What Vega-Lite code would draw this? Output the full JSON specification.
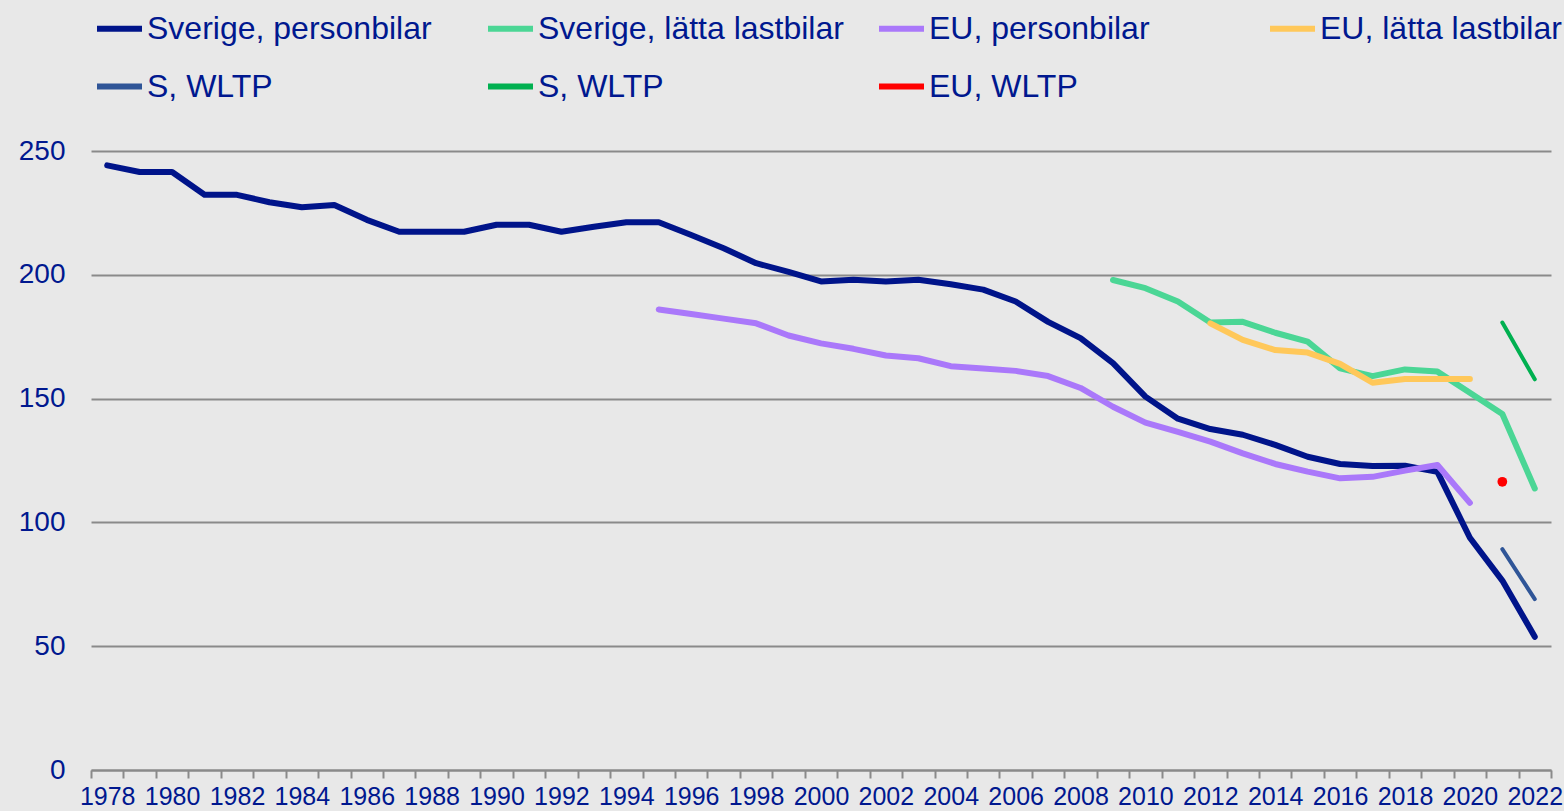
{
  "$schema": "https://vega.github.io/schema/vega-lite/v6.json",
  "width": 1460,
  "height": 619,
  "autosize": {"type": "none"},
  "padding": {"left": 91, "top": 151, "right": 13, "bottom": 41},
  "background": "#e8e8e8",
  "config": {
    "view": {"stroke": null},
    "font": "Liberation Sans",
    "axis": {"labelFont": "Liberation Sans", "labelColor": "#00188f"},
    "legend": {"labelFont": "Liberation Sans"}
  },
  "datasets": {
    "main": [
      {"year": 1978, "series": "Sverige, personbilar", "value": 244.2},
      {"year": 1979, "series": "Sverige, personbilar", "value": 241.5},
      {"year": 1980, "series": "Sverige, personbilar", "value": 241.5},
      {"year": 1981, "series": "Sverige, personbilar", "value": 232.3},
      {"year": 1982, "series": "Sverige, personbilar", "value": 232.3},
      {"year": 1983, "series": "Sverige, personbilar", "value": 229.3},
      {"year": 1984, "series": "Sverige, personbilar", "value": 227.3},
      {"year": 1985, "series": "Sverige, personbilar", "value": 228.2},
      {"year": 1986, "series": "Sverige, personbilar", "value": 222.2},
      {"year": 1987, "series": "Sverige, personbilar", "value": 217.4},
      {"year": 1988, "series": "Sverige, personbilar", "value": 217.4},
      {"year": 1989, "series": "Sverige, personbilar", "value": 217.4},
      {"year": 1990, "series": "Sverige, personbilar", "value": 220.2},
      {"year": 1991, "series": "Sverige, personbilar", "value": 220.2},
      {"year": 1992, "series": "Sverige, personbilar", "value": 217.4},
      {"year": 1993, "series": "Sverige, personbilar", "value": 219.4},
      {"year": 1994, "series": "Sverige, personbilar", "value": 221.2},
      {"year": 1995, "series": "Sverige, personbilar", "value": 221.2},
      {"year": 1996, "series": "Sverige, personbilar", "value": 216.1},
      {"year": 1997, "series": "Sverige, personbilar", "value": 210.7},
      {"year": 1998, "series": "Sverige, personbilar", "value": 204.7},
      {"year": 1999, "series": "Sverige, personbilar", "value": 201.2},
      {"year": 2000, "series": "Sverige, personbilar", "value": 197.3},
      {"year": 2001, "series": "Sverige, personbilar", "value": 198.0},
      {"year": 2002, "series": "Sverige, personbilar", "value": 197.3},
      {"year": 2003, "series": "Sverige, personbilar", "value": 198.0},
      {"year": 2004, "series": "Sverige, personbilar", "value": 196.2},
      {"year": 2005, "series": "Sverige, personbilar", "value": 194.0},
      {"year": 2006, "series": "Sverige, personbilar", "value": 189.2},
      {"year": 2007, "series": "Sverige, personbilar", "value": 181.0},
      {"year": 2008, "series": "Sverige, personbilar", "value": 174.4},
      {"year": 2009, "series": "Sverige, personbilar", "value": 164.3},
      {"year": 2010, "series": "Sverige, personbilar", "value": 150.8},
      {"year": 2011, "series": "Sverige, personbilar", "value": 141.9},
      {"year": 2012, "series": "Sverige, personbilar", "value": 137.7},
      {"year": 2013, "series": "Sverige, personbilar", "value": 135.4},
      {"year": 2014, "series": "Sverige, personbilar", "value": 131.3},
      {"year": 2015, "series": "Sverige, personbilar", "value": 126.5},
      {"year": 2016, "series": "Sverige, personbilar", "value": 123.6},
      {"year": 2017, "series": "Sverige, personbilar", "value": 122.8},
      {"year": 2018, "series": "Sverige, personbilar", "value": 122.9},
      {"year": 2019, "series": "Sverige, personbilar", "value": 120.4},
      {"year": 2020, "series": "Sverige, personbilar", "value": 93.8},
      {"year": 2021, "series": "Sverige, personbilar", "value": 76.5},
      {"year": 2022, "series": "Sverige, personbilar", "value": 53.8},
      {"year": 2009, "series": "Sverige, lätta lastbilar", "value": 197.9},
      {"year": 2010, "series": "Sverige, lätta lastbilar", "value": 194.6},
      {"year": 2011, "series": "Sverige, lätta lastbilar", "value": 189.2},
      {"year": 2012, "series": "Sverige, lätta lastbilar", "value": 180.7},
      {"year": 2013, "series": "Sverige, lätta lastbilar", "value": 181.0},
      {"year": 2014, "series": "Sverige, lätta lastbilar", "value": 176.6},
      {"year": 2015, "series": "Sverige, lätta lastbilar", "value": 173.0},
      {"year": 2016, "series": "Sverige, lätta lastbilar", "value": 162.2},
      {"year": 2017, "series": "Sverige, lätta lastbilar", "value": 159.1},
      {"year": 2018, "series": "Sverige, lätta lastbilar", "value": 161.8},
      {"year": 2019, "series": "Sverige, lätta lastbilar", "value": 160.9},
      {"year": 2020, "series": "Sverige, lätta lastbilar", "value": 152.4},
      {"year": 2021, "series": "Sverige, lätta lastbilar", "value": 143.8},
      {"year": 2022, "series": "Sverige, lätta lastbilar", "value": 113.7},
      {"year": 1995, "series": "EU, personbilar", "value": 186.0},
      {"year": 1996, "series": "EU, personbilar", "value": 184.2},
      {"year": 1997, "series": "EU, personbilar", "value": 182.3},
      {"year": 1998, "series": "EU, personbilar", "value": 180.4},
      {"year": 1999, "series": "EU, personbilar", "value": 175.5},
      {"year": 2000, "series": "EU, personbilar", "value": 172.3},
      {"year": 2001, "series": "EU, personbilar", "value": 170.1},
      {"year": 2002, "series": "EU, personbilar", "value": 167.4},
      {"year": 2003, "series": "EU, personbilar", "value": 166.3},
      {"year": 2004, "series": "EU, personbilar", "value": 163.1},
      {"year": 2005, "series": "EU, personbilar", "value": 162.2},
      {"year": 2006, "series": "EU, personbilar", "value": 161.2},
      {"year": 2007, "series": "EU, personbilar", "value": 159.1},
      {"year": 2008, "series": "EU, personbilar", "value": 154.3},
      {"year": 2009, "series": "EU, personbilar", "value": 146.7},
      {"year": 2010, "series": "EU, personbilar", "value": 140.3},
      {"year": 2011, "series": "EU, personbilar", "value": 136.6},
      {"year": 2012, "series": "EU, personbilar", "value": 132.6},
      {"year": 2013, "series": "EU, personbilar", "value": 127.9},
      {"year": 2014, "series": "EU, personbilar", "value": 123.6},
      {"year": 2015, "series": "EU, personbilar", "value": 120.5},
      {"year": 2016, "series": "EU, personbilar", "value": 117.8},
      {"year": 2017, "series": "EU, personbilar", "value": 118.4},
      {"year": 2018, "series": "EU, personbilar", "value": 120.9},
      {"year": 2019, "series": "EU, personbilar", "value": 123.2},
      {"year": 2020, "series": "EU, personbilar", "value": 107.9},
      {"year": 2012, "series": "EU, lätta lastbilar", "value": 180.4},
      {"year": 2013, "series": "EU, lätta lastbilar", "value": 173.7},
      {"year": 2014, "series": "EU, lätta lastbilar", "value": 169.6},
      {"year": 2015, "series": "EU, lätta lastbilar", "value": 168.6},
      {"year": 2016, "series": "EU, lätta lastbilar", "value": 164.0},
      {"year": 2017, "series": "EU, lätta lastbilar", "value": 156.4},
      {"year": 2018, "series": "EU, lätta lastbilar", "value": 157.9},
      {"year": 2019, "series": "EU, lätta lastbilar", "value": 157.9},
      {"year": 2020, "series": "EU, lätta lastbilar", "value": 157.9}
    ],
    "wltp": [
      {"year": 2021, "series": "S, WLTP pb", "value": 89.2},
      {"year": 2022, "series": "S, WLTP pb", "value": 69.0},
      {"year": 2021, "series": "S, WLTP lb", "value": 180.7},
      {"year": 2022, "series": "S, WLTP lb", "value": 157.8}
    ],
    "euwltp": [
      {"year": 2021, "series": "EU, WLTP", "value": 116.4}
    ]
  },
  "encoding": {
    "x": {
      "field": "year",
      "type": "quantitative",
      "scale": {"domain": [1977.5, 2022.5], "nice": false, "zero": false},
      "axis": {
        "title": null,
        "values": [1977.5, 1978.5, 1979.5, 1980.5, 1981.5, 1982.5, 1983.5, 1984.5, 1985.5, 1986.5, 1987.5, 1988.5, 1989.5, 1990.5, 1991.5, 1992.5, 1993.5, 1994.5, 1995.5, 1996.5, 1997.5, 1998.5, 1999.5, 2000.5, 2001.5, 2002.5, 2003.5, 2004.5, 2005.5, 2006.5, 2007.5, 2008.5, 2009.5, 2010.5, 2011.5, 2012.5, 2013.5, 2014.5, 2015.5, 2016.5, 2017.5, 2018.5, 2019.5, 2020.5, 2021.5, 2022.5],
        "labelExpr": "(datum.value + 0.5) % 2 == 0 ? '' + (datum.value + 0.5) : ''",
        "labelOffset": 16.2,
        "labelOverlap": false,
        "labelFlush": false,
        "labelBound": false,
        "labelFontSize": 25,
        "labelPadding": 6,
        "tickSize": 8,
        "tickColor": "#8a8a8a",
        "tickWidth": 2,
        "domainColor": "#8a8a8a",
        "domainWidth": 2,
        "grid": false
      }
    },
    "y": {
      "field": "value",
      "type": "quantitative",
      "scale": {"domain": [0, 250], "nice": false},
      "axis": {
        "title": null,
        "values": [0, 50, 100, 150, 200, 250],
        "grid": true,
        "gridColor": "#8a8a8a",
        "gridWidth": 2,
        "domain": false,
        "ticks": false,
        "labelFontSize": 28,
        "labelPadding": 26
      }
    },
    "color": {
      "field": "series",
      "type": "nominal",
      "scale": {
        "domain": ["Sverige, personbilar", "Sverige, lätta lastbilar", "EU, personbilar", "EU, lätta lastbilar", "S, WLTP pb", "S, WLTP lb", "EU, WLTP"],
        "range": ["#00148a", "#4bd695", "#aa78fa", "#ffc85a", "#2f5597", "#00b050", "#ff0000"]
      },
      "legend": {
        "title": null,
        "orient": "none",
        "legendX": 3,
        "legendY": -148,
        "direction": "horizontal",
        "columns": 4,
        "gridAlign": "all",
        "columnPadding": 23,
        "rowPadding": 16,
        "padding": 0,
        "symbolType": "stroke",
        "symbolSize": 2025,
        "symbolStrokeWidth": 6,
        "labelFontSize": 32,
        "labelColor": "#00188f",
        "labelOffset": 2,
        "labelLimit": 500,
        "labelExpr": "indexof(datum.label, 'S, WLTP') == 0 ? 'S, WLTP' : datum.label"
      }
    }
  },
  "layer": [
    {
      "data": {"name": "main"},
      "mark": {"type": "line", "strokeWidth": 6, "strokeCap": "round", "strokeJoin": "round"}
    },
    {
      "data": {"name": "wltp"},
      "mark": {"type": "line", "strokeWidth": 4, "strokeCap": "round", "strokeJoin": "round"}
    },
    {
      "data": {"name": "euwltp"},
      "mark": {"type": "circle", "size": 95, "opacity": 1}
    }
  ]
}
